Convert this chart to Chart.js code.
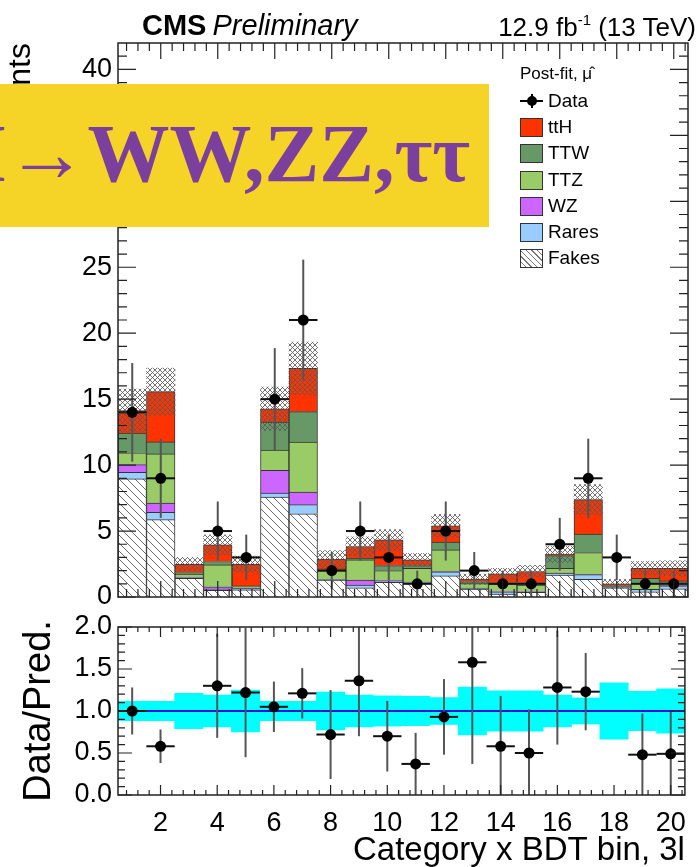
<!DOCTYPE html>
<html>
<head>
<meta charset="utf-8">
<script src="https://cdn.jsdelivr.net/npm/chart.js@4.4.1/dist/chart.umd.min.js"></script>
<style>
  body { margin: 0; background: #fff; }
  #page { position: relative; width: 698px; height: 867px; overflow: hidden; font-family: "Liberation Sans", Arial, sans-serif; }
  canvas { position: absolute; left: 0; }
  .hdr { position: absolute; top: 11px; font-size: 29px; line-height: 1; white-space: nowrap; color: #000; }
  #cms { left: 142px; }
  #cms i { margin-left: -2px; }
  #lumi { right: 2px; top: 12px; font-size: 26px; }
  #lumi sup { font-size: 15px; vertical-align: 11px; }
  #legend { position: absolute; left: 520px; top: 62px; font-size: 19px; color: #000; }
  #legend .head { font-size: 17px; height: 26px; line-height: 24px; }
  #legend .row { position: relative; height: 26.2px; line-height: 26px; padding-left: 28px; }
  #legend .sw { position: absolute; left: 0; top: 4px; width: 21px; height: 17px; border: 1px solid #333; }
  #legend .dline { position: absolute; left: 0; top: 12px; width: 23px; height: 2px; background: #000; }
  #legend .vline { position: absolute; left: 10.5px; top: 6px; width: 2px; height: 14px; background: #000; }
  #legend .dot { position: absolute; left: 6.5px; top: 8px; width: 10px; height: 10px; border-radius: 50%; background: #000; }
  #banner { position: absolute; left: 0; top: 84px; width: 489px; height: 143px; background: #f5d327; overflow: hidden; }
  #banner span { position: absolute; right: 19px; top: 29px; font-family: "Liberation Serif", serif; font-weight: bold; font-size: 82px; line-height: 1; color: #7b3f9e; white-space: nowrap; }
</style>
</head>
<body>
<div id="page">
  <canvas id="main" width="698" height="620" style="top:0"></canvas>
  <canvas id="ratio" width="698" height="267" style="top:600px"></canvas>
  <div class="hdr" id="cms"><b>CMS</b> <i>Preliminary</i></div>
  <div class="hdr" id="lumi">12.9 fb<sup>-1</sup> (13 TeV)</div>
  <div id="legend"></div>
  <div id="banner"><span>H→WW,ZZ,ττ</span></div>
</div>
<script>
// bins of "Category x BDT bin, 3l"
const bins = [1, 2, 3, 4, 5, 6, 7, 8, 9, 10, 11, 12, 13, 14, 15, 16, 17, 18, 19, 20];

// post-fit stack, bottom to top
const fakes = [8.95, 5.86, 1.42, 0.50, 0.55, 7.58, 6.31, 1.29, 0.70, 1.12, 1.05, 1.60, 0.60, 0.22, 0.35, 1.67, 1.34, 0.70, 0.40, 0.62];
const rares = [0.50, 0.55, 0.05, 0.10, 0.08, 0.30, 0.69, 0.03, 0.21, 0.10, 0.06, 0.30, 0.05, 0.18, 0.05, 0.13, 0.36, 0.03, 0.18, 0.22];
const wz    = [0.59, 0.71, 0.03, 0.18, 0.05, 1.72, 0.96, 0.02, 0.38, 0.05, 0.03, 0.03, 0.02, 0.02, 0.02, 0.02, 0.02, 0.02, 0.01, 0.02];
const ttz   = [0.89, 3.73, 0.23, 1.65, 0.10, 1.53, 3.78, 0.66, 1.52, 0.73, 1.04, 1.64, 0.35, 0.57, 0.49, 0.36, 1.65, 0.05, 0.45, 0.23];
const ttw   = [1.50, 0.91, 0.12, 0.26, 0.06, 2.13, 2.31, 0.13, 0.12, 0.38, 0.20, 0.59, 0.13, 0.10, 0.18, 0.96, 1.40, 0.05, 0.38, 0.13];
const tth   = [1.70, 3.81, 0.63, 1.26, 1.64, 1.01, 3.29, 0.74, 0.90, 1.95, 0.43, 1.24, 0.20, 0.66, 0.84, 0.10, 2.61, 0.15, 0.76, 0.95];

// relative uncertainty of the prediction (band in the ratio panel)
const relUnc = [0.115, 0.115, 0.21, 0.19, 0.25, 0.115, 0.115, 0.225, 0.19, 0.18, 0.175, 0.16, 0.285, 0.24, 0.24, 0.19, 0.155, 0.335, 0.235, 0.265];

// observed data
const dataObs = [14, 9, null, 5, 3, 15, 21, 2, 5, 3, 1, 5, 2, 1, 1, 4, 9, 3, 1, 1];
const dataErr = [3.74, 3.0, 0, 2.24, 1.73, 3.87, 4.58, 1.41, 2.24, 1.73, 1.0, 2.24, 1.41, 1.0, 1.0, 2.0, 3.0, 1.73, 1.0, 1.0];

// data / prediction
const ratio    = [1.00, 0.58, null, 1.30, 1.22, 1.05, 1.21, 0.72, 1.36, 0.70, 0.37, 0.93, 1.58, 0.58, 0.50, 1.28, 1.23, null, 0.48, 0.49];
const ratioErr = [0.28, 0.20, 0, 0.62, 0.77, 0.30, 0.30, 0.53, 0.66, 0.42, 0.37, 0.45, 1.21, 0.60, 0.52, 0.68, 0.46, 0, 0.49, 0.50];

// ticks
const xTickLabels = [2, 4, 6, 8, 10, 12, 14, 16, 18, 20];
const yTickLabels = [0, 5, 10, 15, 20, 25, 30, 35, 40];
const rTickLabels = [0.0, 0.5, 1.0, 1.5, 2.0];

const FONT = "'Liberation Sans', Arial, sans-serif";

// hatch patterns (ROOT fill styles)
function hatch(bg, fg, size, dirs, lw) {
  const c = document.createElement("canvas");
  c.width = c.height = size;
  const g = c.getContext("2d");
  if (bg) { g.fillStyle = bg; g.fillRect(0, 0, size, size); }
  g.strokeStyle = fg;
  g.lineWidth = lw;
  g.beginPath();
  for (const k of [-size, 0, size]) {
    if (dirs.includes("\\")) { g.moveTo(k, 0); g.lineTo(k + size, size); }
    if (dirs.includes("/")) { g.moveTo(k, size); g.lineTo(k + size, 0); }
  }
  g.stroke();
  return g.createPattern(c, "repeat");
}
const fakesFill = hatch("#ffffff", "#6a6a6a", 8, "\\", 1);
const uncFill = hatch(null, "rgba(90,90,90,0.85)", 5, "\\/", 1);

const series = [
  { label: "Fakes", values: fakes, fill: fakesFill, css: "repeating-linear-gradient(45deg,#fff 0 3px,#777 3px 4px)" },
  { label: "Rares", values: rares, fill: "#99ccff", css: "#99ccff" },
  { label: "WZ", values: wz, fill: "#cc66ff", css: "#cc66ff" },
  { label: "TTZ", values: ttz, fill: "#99cc66", css: "#99cc66" },
  { label: "TTW", values: ttw, fill: "#669966", css: "#669966" },
  { label: "ttH", values: tth, fill: "#ff3300", css: "#ff3300" },
];

const totals = bins.map((_, i) => series.reduce((s, d) => s + d.values[i], 0));

// 📐 frame with inward ticks on all four sides
function rootFrame(cfg) {
  return {
    id: "rootFrame",
    afterDraw(chart) {
      const { ctx, chartArea: a } = chart;
      const xs = chart.scales.x, ys = chart.scales.y;
      ctx.save();
      ctx.strokeStyle = "#222";
      ctx.lineWidth = 1.2;
      ctx.beginPath();
      const xt = (v, len) => {
        const p = xs.getPixelForValue(v);
        ctx.moveTo(p, a.bottom); ctx.lineTo(p, a.bottom - len);
        ctx.moveTo(p, a.top); ctx.lineTo(p, a.top + len);
      };
      const yt = (v, len) => {
        const p = ys.getPixelForValue(v);
        ctx.moveTo(a.left, p); ctx.lineTo(a.left + len, p);
        ctx.moveTo(a.right, p); ctx.lineTo(a.right - len, p);
      };
      for (let v = cfg.xMinorStep * 2; v < 20.5; v += cfg.xMinorStep) xt(v, cfg.xMinorLen);
      xTickLabels.forEach((v) => xt(v, cfg.xMajorLen));
      for (let v = cfg.yMinorStep; v < cfg.yMax; v += cfg.yMinorStep) yt(v, cfg.yMinorLen);
      cfg.yMajor.forEach((v) => yt(v, cfg.yMajorLen));
      ctx.stroke();
      ctx.lineWidth = 1.5;
      ctx.strokeRect(a.left, a.top, a.right - a.left, a.bottom - a.top);
      ctx.restore();
    },
  };
}

// ✚ error bars drawn just before the points
function errorBars(dsIndex, axisId, values, errors) {
  return {
    id: "errorBars",
    beforeDatasetDraw(chart, args) {
      if (args.index !== dsIndex) return;
      const { ctx, chartArea: a } = chart;
      const xs = chart.scales.x, ys = chart.scales[axisId];
      ctx.save();
      ctx.beginPath();
      ctx.rect(a.left, a.top, a.right - a.left, a.bottom - a.top);
      ctx.clip();
      ctx.lineWidth = 2;
      values.forEach((v, i) => {
        if (v === null) return;
        const px = xs.getPixelForValue(bins[i]);
        const py = ys.getPixelForValue(v);
        ctx.strokeStyle = "#555";
        ctx.beginPath();
        ctx.moveTo(px, ys.getPixelForValue(v + errors[i]));
        ctx.lineTo(px, ys.getPixelForValue(v - errors[i]));
        ctx.stroke();
        ctx.strokeStyle = "#111";
        ctx.beginPath();
        ctx.moveTo(xs.getPixelForValue(bins[i] - 0.5), py);
        ctx.lineTo(xs.getPixelForValue(bins[i] + 0.5), py);
        ctx.stroke();
      });
      ctx.restore();
    },
  };
}

const tickFont = { family: FONT, size: 27 };
const noGrid = { display: false, drawTicks: false, tickLength: 0 };

// 📊 main panel
const mainDatasets = series.map((s) => ({
  type: "bar",
  label: s.label,
  data: bins.map((b, i) => ({ x: b, y: s.values[i] })),
  backgroundColor: s.fill,
  borderColor: "#333",
  borderWidth: 1,
  barPercentage: 1,
  categoryPercentage: 1,
  yAxisID: "y",
}));
mainDatasets.push({
  type: "bar",
  label: "unc",
  data: bins.map((b, i) => ({ x: b, y: [totals[i] * (1 - relUnc[i]), totals[i] * (1 + relUnc[i])] })),
  backgroundColor: uncFill,
  borderWidth: 0,
  barPercentage: 1,
  categoryPercentage: 1,
  grouped: false,
  yAxisID: "yu",
  order: -1,
});
mainDatasets.push({
  type: "scatter",
  label: "Data",
  data: bins.map((b, i) => ({ x: b, y: dataObs[i] })),
  pointRadius: 5.5,
  pointBackgroundColor: "#000",
  pointBorderWidth: 0,
  yAxisID: "yu",
  order: -2,
});

new Chart(document.getElementById("main"), {
  data: { datasets: mainDatasets },
  options: {
    responsive: false,
    animation: false,
    devicePixelRatio: 1,
    events: [],
    layout: { padding: { top: 43, right: 10, left: 0, bottom: 0 } },
    plugins: { legend: { display: false }, tooltip: { enabled: false } },
    scales: {
      x: {
        type: "linear", min: 0.5, max: 20.5, stacked: true, offset: false,
        grid: noGrid, border: { display: false },
        ticks: { display: false },
        afterFit: (s) => { s.height = 23; },
      },
      y: {
        type: "linear", min: 0, max: 42, stacked: true,
        grid: noGrid, border: { display: false },
        afterBuildTicks: (s) => { s.ticks = yTickLabels.map((v) => ({ value: v })); },
        ticks: { font: tickFont, color: "#000", padding: 6 },
        title: { display: true, text: "Events", align: "end", color: "#000", font: { family: FONT, size: 32 }, padding: { top: 2, bottom: 0 } },
        afterFit: (s) => { s.width = 118; },
      },
      yu: { type: "linear", min: 0, max: 42, display: false },
    },
  },
  plugins: [
    errorBars(7, "yu", dataObs, dataErr),
    rootFrame({ xMinorStep: 0.4, xMinorLen: 8, xMajorLen: 16, yMinorStep: 1, yMax: 42, yMinorLen: 9, yMajorLen: 18, yMajor: yTickLabels }),
  ],
});

// 📉 ratio panel
new Chart(document.getElementById("ratio"), {
  data: {
    datasets: [
      {
        type: "scatter",
        label: "Data/Pred.",
        data: bins.map((b, i) => ({ x: b, y: ratio[i] })),
        pointRadius: 5.5,
        pointBackgroundColor: "#000",
        pointBorderWidth: 0,
        order: 0,
      },
      {
        type: "line",
        label: "one",
        data: [{ x: 0.5, y: 1 }, { x: 20.5, y: 1 }],
        borderColor: "#1010e0",
        borderWidth: 2,
        pointRadius: 0,
        order: 1,
      },
      {
        type: "bar",
        label: "band",
        data: bins.map((b, i) => ({ x: b, y: [1 - relUnc[i], 1 + relUnc[i]] })),
        backgroundColor: "#00ffff",
        borderWidth: 0,
        barPercentage: 1,
        categoryPercentage: 1,
        order: 2,
      },
    ],
  },
  options: {
    responsive: false,
    animation: false,
    devicePixelRatio: 1,
    events: [],
    layout: { padding: { top: 27, right: 10, left: 0, bottom: 0 } },
    plugins: { legend: { display: false }, tooltip: { enabled: false } },
    scales: {
      x: {
        type: "linear", min: 0.5, max: 20.5, offset: false,
        grid: noGrid, border: { display: false },
        afterBuildTicks: (s) => { s.ticks = xTickLabels.map((v) => ({ value: v })); },
        ticks: { font: tickFont, color: "#000", padding: 12, maxRotation: 0, autoSkip: false },
        title: { display: true, text: "Category x BDT bin, 3l", align: "end", color: "#000", font: { family: FONT, size: 33, lineHeight: 1 }, padding: { top: 0, bottom: 0 } },
        afterFit: (s) => { s.height = 72; },
      },
      y: {
        type: "linear", min: 0, max: 2,
        grid: noGrid, border: { display: false },
        afterBuildTicks: (s) => { s.ticks = rTickLabels.map((v) => ({ value: v })); },
        ticks: { font: tickFont, color: "#000", padding: 6, callback: (v) => Number(v).toFixed(1) },
        title: { display: true, text: "Data/Pred.", color: "#000", font: { family: FONT, size: 38 }, padding: { top: 17, bottom: 0 } },
        afterFit: (s) => { s.width = 118; },
      },
    },
  },
  plugins: [
    errorBars(0, "y", ratio, ratioErr),
    rootFrame({ xMinorStep: 0.4, xMinorLen: 5, xMajorLen: 10, yMinorStep: 0.1, yMax: 2, yMinorLen: 7, yMajorLen: 14, yMajor: rTickLabels }),
  ],
});

// 🏷️ legend
const legend = document.getElementById("legend");
let html = '<div class="head">Post-fit, μ̂</div>';
html += '<div class="row"><span class="dline"></span><span class="vline"></span><span class="dot"></span>Data</div>';
[...series].reverse().forEach((s) => {
  html += `<div class="row"><span class="sw" style="background:${s.css}"></span>${s.label}</div>`;
});
legend.innerHTML = html;
</script>
</body>
</html>
